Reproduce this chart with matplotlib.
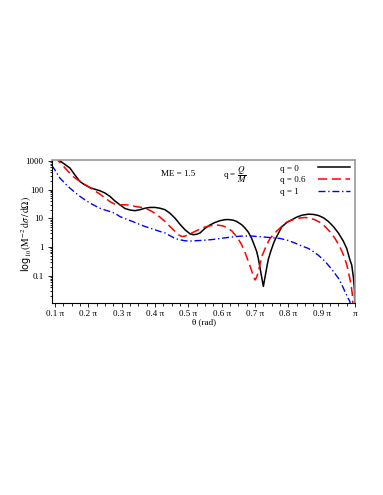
import numpy as np
import matplotlib
matplotlib.use("Agg")
import matplotlib.pyplot as plt
from matplotlib.ticker import FixedLocator, LogLocator, NullFormatter

# theta in units of pi, values of M^-2 dsigma/dOmega
th_q0 = [0.105, 0.115, 0.13, 0.145, 0.16, 0.175, 0.19, 0.205, 0.22, 0.235, 0.25, 0.265, 0.28, 0.295,
         0.31, 0.325, 0.34, 0.355, 0.37, 0.385, 0.40, 0.415, 0.43, 0.445, 0.46, 0.475, 0.49, 0.505,
         0.515, 0.525, 0.535, 0.55, 0.565, 0.58, 0.595, 0.61, 0.62, 0.635, 0.645, 0.66, 0.67, 0.68,
         0.69, 0.70, 0.705, 0.71, 0.715, 0.72, 0.725, 0.73, 0.735, 0.74, 0.747, 0.755, 0.76, 0.77,
         0.78, 0.795, 0.81, 0.825, 0.84, 0.86, 0.875, 0.89, 0.905, 0.92, 0.935, 0.95, 0.965, 0.975,
         0.985, 0.99, 0.995, 0.998, 1.0]
v_q0 = [1400, 1000, 750, 560, 320, 190, 145, 117, 103, 91, 76, 58, 40, 29.5,
        22, 19.5, 18.5, 20, 22.5, 24, 24, 22.5, 20, 15, 10.2, 6.2, 4, 2.9,
        2.7, 2.8, 3.1, 4.5, 5.9, 7.2, 8.3, 9.0, 9.1, 8.6, 7.8, 6.0, 4.6, 3.3,
        2.0, 1.0, 0.7, 0.4, 0.19, 0.09, 0.043, 0.09, 0.19, 0.38, 0.7, 1.3, 1.8, 3.0,
        5.0, 7.2, 8.9, 11, 12.8, 14, 13.7, 12.6, 10.5, 7.8, 5.2, 3.1, 1.6, 0.9,
        0.35, 0.24, 0.09, 0.037, 0.005]

th_q06 = [0.10, 0.11, 0.12, 0.135, 0.155, 0.17, 0.18, 0.19, 0.205, 0.22, 0.235, 0.25, 0.265, 0.28,
          0.29, 0.31, 0.325, 0.34, 0.355, 0.37, 0.385, 0.40, 0.415, 0.43, 0.445, 0.46, 0.47, 0.48,
          0.49, 0.50, 0.515, 0.53, 0.55, 0.565, 0.58, 0.59, 0.605, 0.615, 0.63, 0.64, 0.65, 0.66,
          0.67, 0.68, 0.69, 0.695, 0.70, 0.705, 0.71, 0.72, 0.735, 0.745, 0.755, 0.765, 0.775, 0.79,
          0.805, 0.82, 0.835, 0.85, 0.865, 0.88, 0.895, 0.91, 0.925, 0.94, 0.955, 0.965, 0.975,
          0.982, 0.988, 0.992, 0.995]
v_q06 = [1500, 1000, 760, 490, 280, 210, 182, 150, 117, 90, 69, 52, 38, 31,
         29.5, 29.5, 29, 26, 24.5, 22.5, 19, 15, 11, 7.8, 5.2, 3.5, 2.7, 2.35,
         2.4, 2.7, 3.3, 4.0, 5.0, 5.5, 5.8, 5.8, 5.4, 4.8, 3.7, 2.7, 1.9, 1.2,
         0.65, 0.32, 0.15, 0.094, 0.072, 0.09, 0.14, 0.47, 1.2, 2.0, 2.7, 3.6, 4.6, 6.8,
         8.3, 9.5, 10.3, 10.7, 10.2, 8.9, 7.2, 5.2, 3.4, 2.0, 1.0, 0.54, 0.25,
         0.107, 0.05, 0.022, 0.005]

th_q1 = [0.09, 0.10, 0.115, 0.13, 0.145, 0.16, 0.175, 0.19, 0.205, 0.22, 0.235, 0.25, 0.265, 0.28,
         0.295, 0.31, 0.325, 0.34, 0.355, 0.37, 0.385, 0.40, 0.415, 0.43, 0.445, 0.46, 0.475, 0.49,
         0.505, 0.52, 0.535, 0.55, 0.575, 0.595, 0.625, 0.655, 0.685, 0.715, 0.745, 0.775, 0.80,
         0.82, 0.84, 0.86, 0.875, 0.89, 0.91, 0.93, 0.95, 0.96, 0.97, 0.98, 0.985, 0.99]
v_q1 = [700, 480, 250, 165, 112, 80, 58, 44, 34, 27.5, 22.5, 19.5, 17.3, 15,
        11.5, 9.8, 8.4, 7.2, 6.1, 5.2, 4.6, 4.0, 3.5, 3.1, 2.5, 2.0, 1.8, 1.66,
        1.62, 1.66, 1.7, 1.74, 1.85, 2.0, 2.2, 2.4, 2.45, 2.3, 2.15, 2.0, 1.7,
        1.38, 1.1, 0.9, 0.7, 0.52, 0.32, 0.17, 0.083, 0.05, 0.028, 0.016, 0.0125, 0.004]

xticks = [0.1, 0.2, 0.3, 0.4, 0.5, 0.6, 0.7, 0.8, 0.9, 1.0]
xticklabels = ["0.1 π", "0.2 π", "0.3 π", "0.4 π", "0.5 π", "0.6 π", "0.7 π", "0.8 π", "0.9 π", "π"]
yticks = [0.1, 1, 10, 100, 1000]
yticklabels = ["0.1", "1", "10", "100", "1000"]

plt.rcParams["font.family"] = ["Liberation Serif", "DejaVu Serif"]
plt.rcParams["mathtext.fontset"] = "stix"

fig = plt.figure(figsize=(3.83, 4.95), dpi=100)
ax = fig.add_axes([0.137, 0.387, 0.790, 0.290])

ax.plot(th_q0, v_q0, color="black", lw=1.1, label="q = 0")
ax.plot(th_q06, v_q06, color="red", lw=1.1, dashes=(6, 3), label="q = 0.6")
ax.plot(th_q1, v_q1, color="blue", lw=1.0, dashes=(5, 2, 1, 2), label="q = 1")

ax.set_yscale("log")
ax.set_xlim(0.0925, 1.0)
ax.set_ylim(0.011, 1080)

ax.set_xticks(xticks)
ax.set_xticklabels(xticklabels)
ax.xaxis.set_minor_locator(FixedLocator(np.arange(0.1, 1.0, 0.025)))
ax.set_yticks(yticks)
ax.set_yticklabels(yticklabels)
ax.yaxis.set_minor_locator(LogLocator(base=10, subs=np.arange(2, 10)))
ax.yaxis.set_minor_formatter(NullFormatter())

ax.tick_params(which="both", direction="out", labelsize=6.5, width=0.6)
ax.tick_params(which="major", length=3)
ax.tick_params(which="minor", length=1.8)
ax.tick_params(axis="x", pad=2)
for s in ["top", "right"]:
    ax.spines[s].set_color("#999999")
    ax.spines[s].set_linewidth(1.2)
for s in ["left", "bottom"]:
    ax.spines[s].set_linewidth(0.8)

ax.set_xlabel("θ (rad)", fontsize=6.5, labelpad=0)
ax.set_ylabel(r"log$_{10}$$\left(\mathrm{M}^{-2}\,\mathrm{d}\sigma\,/\,\mathrm{d}\Omega\right)$",
              fontsize=7, family="DejaVu Sans")
ax.yaxis.set_label_coords(-0.062, 0.484)

ax.text(0.415, 0.90, "ME = 1.5", transform=ax.transAxes, fontsize=6.5, va="center", ha="center")
ax.text(0.565, 0.90, r"q = $\dfrac{Q}{M}$", transform=ax.transAxes, fontsize=6.5, va="center", ha="left")

leg = ax.legend(loc="upper right", bbox_to_anchor=(0.9835, 0.97), frameon=False, markerfirst=False,
                fontsize=6.5, handlelength=3.5, handletextpad=1.5, labelspacing=0.38,
                borderpad=0, borderaxespad=0)
# labels left-aligned, lines right-aligned: stretch every row to the same width (px)
for col in leg._legend_handle_box.get_children():
    col.align = "left"
    for row in col.get_children():
        row.mode = "expand"
        row.width = 70

fig.savefig("out.png", dpi=100)
